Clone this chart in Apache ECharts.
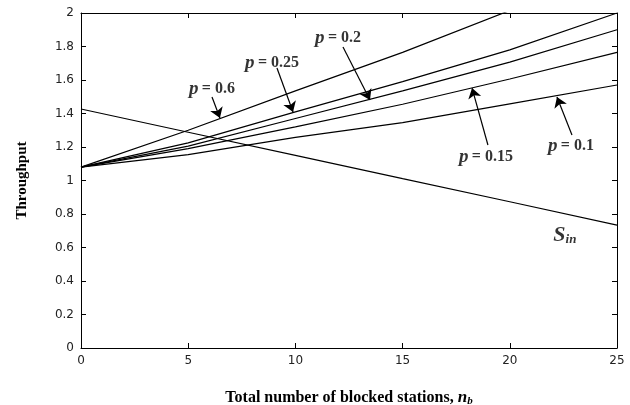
<!DOCTYPE html>
<html>
<head>
<meta charset="utf-8">
<script src="https://cdn.jsdelivr.net/npm/echarts@6/dist/echarts.min.js"></script>
<style>
html,body{margin:0;padding:0;background:#fff;}
#c{width:630px;height:405px;}
</style>
</head>
<body>
<div id="c"></div>
<script>
// ---- data ----
var nb = [0, 5, 10, 15, 20, 25];
var p06  = [1.08, 1.30, 1.535, 1.765, 2.015, null];
var p025 = [1.08, 1.225, 1.41, 1.59, 1.78, 2.0];
var p02  = [1.08, 1.205, 1.37, 1.535, 1.707, 1.90];
var p015 = [1.08, 1.19, 1.32, 1.455, 1.606, 1.765];
var p01  = [1.08, 1.155, 1.258, 1.345, 1.457, 1.57];
var sIn  = [1.427, 1.288, 1.15, 1.011, 0.873, 0.734];

// annotation labels: [x, y, p-value]
var pLabels = [
  [6.11, 1.546, '0.6'],
  [8.91, 1.701, '0.25'],
  [11.99, 1.851, '0.2'],
  [18.89, 1.140, '0.15'],
  [22.85, 1.206, '0.1']
];
var sInLabel = [22.57, 0.675];
// arrows: [fromX, fromY, toX, toY]
var arrows = [
  [6.11, 1.499, 6.48, 1.373],
  [9.14, 1.672, 9.89, 1.409],
  [12.22, 1.797, 13.48, 1.481],
  [18.98, 1.212, 18.24, 1.552],
  [22.9, 1.272, 22.2, 1.499]
];

function pairs(ys){ return nb.map(function(x,i){ return [x, ys[i]]; }); }

var lineStyle = {color:'#000', width:1.2};
function lineSeries(name, ys){
  return {name:name, type:'line', data:pairs(ys), symbol:'none', lineStyle:lineStyle,
    itemStyle:{color:'#000'},
    xAxisIndex:0, yAxisIndex:0, clip:true, silent:true, connectNulls:false};
}

var tickFont = {fontFamily:'DejaVu Sans', fontSize:12, color:'#222'};
var serifBold = {fontFamily:'Liberation Serif', fontWeight:'bold', color:'#000'};

var chart = echarts.init(document.getElementById('c'), null, {renderer:'canvas'});
var option = {
  animation:false,
  backgroundColor:'#fff',
  grid:{left:81, right:13, top:13, bottom:57, containLabel:false, outerBoundsMode:'none'},
  xAxis:[{
    type:'value', min:0, max:25, interval:5, position:'bottom',
    axisLine:{onZero:false, lineStyle:{color:'#000', width:1}},
    axisTick:{inside:true, length:5, lineStyle:{color:'#000'}},
    axisLabel:Object.assign({margin:7}, tickFont),
    splitLine:{show:false},
    name:'Total number of blocked stations, {it|n}{sub|b}',
    nameLocation:'middle', nameGap:41,
    nameTextStyle:Object.assign({fontSize:16, rich:{
      it:{fontFamily:'Liberation Serif', fontStyle:'italic', fontWeight:'bold', fontSize:17},
      sub:{fontFamily:'Liberation Serif', fontStyle:'italic', fontWeight:'bold', fontSize:11, verticalAlign:'bottom', padding:[7,0,0,0]}
    }}, serifBold)
  },{
    type:'value', min:0, max:25, interval:5, position:'top', gridIndex:0,
    axisLine:{show:true, onZero:false, lineStyle:{color:'#000', width:1}},
    axisTick:{show:true, inside:true, length:5, lineStyle:{color:'#000'}},
    axisLabel:{show:false}, splitLine:{show:false}
  }],
  yAxis:[{
    type:'value', min:0, max:2, interval:0.2, position:'left',
    axisLine:{show:true, onZero:false, lineStyle:{color:'#000', width:1}},
    axisTick:{show:true, inside:true, length:5, lineStyle:{color:'#000'}},
    axisLabel:Object.assign({margin:7}, tickFont),
    splitLine:{show:false},
    name:'Throughput', nameLocation:'middle', nameGap:51, nameRotate:90,
    nameTextStyle:Object.assign({fontSize:15}, serifBold)
  },{
    type:'value', min:0, max:2, interval:0.2, position:'right', gridIndex:0,
    axisLine:{show:true, onZero:false, lineStyle:{color:'#000', width:1}},
    axisTick:{show:true, inside:true, length:5, lineStyle:{color:'#000'}},
    axisLabel:{show:false}, splitLine:{show:false}
  }],
  series:[
    lineSeries('p=0.6', p06),
    lineSeries('p=0.25', p025),
    lineSeries('p=0.2', p02),
    lineSeries('p=0.15', p015),
    lineSeries('p=0.1', p01),
    lineSeries('Sin', sIn),
    {
      type:'line', data:[], xAxisIndex:1, yAxisIndex:1, silent:true
    },
    {
      type:'scatter', symbolSize:0, silent:true,
      data:pLabels.map(function(d){ return {value:[d[0], d[1]], pv:d[2]}; }),
      label:{show:true, position:'inside',
        formatter:function(p){ return '{i|p} {n|= ' + p.data.pv + '}'; },
        rich:{
          i:{fontFamily:'Liberation Serif', fontStyle:'italic', fontWeight:'bold', fontSize:19, color:'#000'},
          n:{fontFamily:'Liberation Serif', fontWeight:'bold', fontSize:16, color:'#000'}
        }
      }
    },
    {
      type:'scatter', symbolSize:0, silent:true,
      data:[{value:sInLabel}],
      label:{show:true, position:'inside',
        formatter:'{s|S}{sub|in}',
        rich:{
          s:{fontFamily:'Liberation Serif', fontStyle:'italic', fontWeight:'bold', fontSize:22, color:'#000'},
          sub:{fontFamily:'Liberation Serif', fontStyle:'italic', fontWeight:'bold', fontSize:13, color:'#000', padding:[9,0,0,0]}
        }
      }
    },
    {
      type:'line', data:[], silent:true, itemStyle:{color:'#000'},
      markLine:{
        silent:true, animation:false,
        symbol:['none','arrow'], symbolSize:10,
        label:{show:false},
        itemStyle:{color:'#000'},
        lineStyle:{color:'#000', width:1.2, type:'solid'},
        data:arrows.map(function(a){ return [{coord:[a[0],a[1]]},{coord:[a[2],a[3]]}]; })
      }
    }
  ]
};
chart.setOption(option);
</script>
</body>
</html>
